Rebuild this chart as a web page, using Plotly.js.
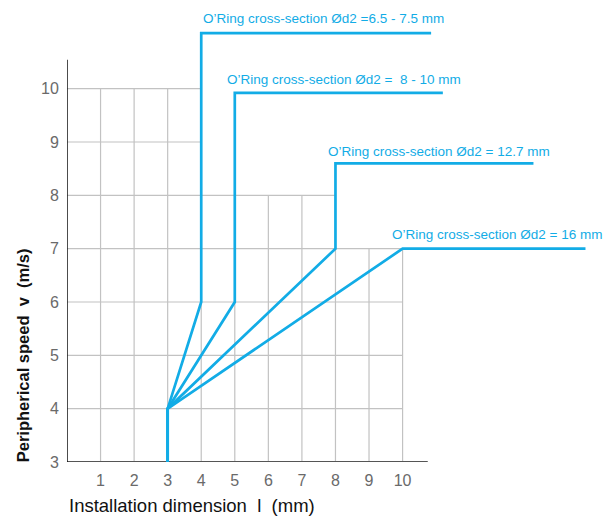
<!DOCTYPE html>
<html>
<head>
<meta charset="utf-8">
<script src="https://cdn.plot.ly/plotly-3.0.1.min.js"></script>
<style>html,body{margin:0;padding:0;background:#fff;}#chart{width:614px;height:517px;}</style>
</head>
<body>
<div id="chart"></div>
<script>
// Series data (installation dimension l in mm, peripheral speed v in m/s)
const seriesNames = ["Ød2 6.5 - 7.5 mm", "Ød2 8 - 10 mm", "Ød2 12.7 mm", "Ød2 16 mm"];
const seriesX = [
  [3, 3, 4, 4, 10.85],
  [3, 3, 5, 5, 11.2],
  [3, 3, 8, 8, 13.9],
  [3, 3, 10, 15.45]
];
const seriesY = [
  [3, 4, 6, 11.04, 11.04],
  [3, 4, 6, 9.92, 9.92],
  [3, 4, 7, 8.6, 8.6],
  [3, 4, 7, 7]
];
const labelTexts = [
  "O’Ring cross-section Ød2 =6.5 - 7.5 mm",
  "O’Ring cross-section Ød2 =\u00a0 8 - 10 mm",
  "O’Ring cross-section Ød2 = 12.7 mm",
  "O’Ring cross-section Ød2 = 16 mm"
];
const labelX = [3.99, 4.72, 7.73, 9.61];
const labelY = [11.32, 10.18, 8.83, 7.27];
const xTicks = [1, 2, 3, 4, 5, 6, 7, 8, 9, 10];
const yTicks = [3, 4, 5, 6, 7, 8, 9, 10];
const xTitle = "Installation dimension\u00a0 l\u00a0 (mm)";
const yTitle = "Peripherical speed\u00a0 v\u00a0 (m/s)";
// Partial grid extents: vertical lines (x, top y), horizontal lines (y, right x)
const vGridX = [1, 2, 3, 4, 5, 6, 7, 8, 9, 10];
const vGridTop = [10, 10, 10, 10, 8, 8, 8, 8, 7, 7];
const hGridY = [4, 5, 6, 7, 8, 9, 10];
const hGridRight = [10, 10, 10, 10, 8, 4, 4];

const blue = "#12ACE6";
const FONT = "Liberation Sans, Arial, sans-serif";
const yMin = 3, yMax = 11.4;
const plotTopPx = 461.7 - (yMax - yMin) * 53.3;
const plotH = 461.7 - plotTopPx;
const plotW = 547;

const shapes = [];
vGridX.forEach((x, i) => shapes.push({type: "line", xref: "x", yref: "y", x0: x, x1: x, y0: 3, y1: vGridTop[i], line: {color: "#c2c2c2", width: 1.2}, layer: "below"}));
hGridY.forEach((y, i) => shapes.push({type: "line", xref: "x", yref: "y", x0: 0, x1: hGridRight[i], y0: y, y1: y, line: {color: "#c2c2c2", width: 1.2}, layer: "below"}));
shapes.push({type: "line", xref: "x", yref: "y", x0: 0, x1: 10.75, y0: 3, y1: 3, line: {color: "#555", width: 2}, layer: "below"});
shapes.push({type: "line", xref: "x", yref: "y", x0: 0, x1: 0, y0: 3, y1: 10.54, line: {color: "#111", width: 1.5}, layer: "below"});

const traces = seriesNames.map((n, i) => ({
  type: "scatter", mode: "lines", name: n,
  x: seriesX[i], y: seriesY[i],
  line: {color: blue, width: 2.7}, cliponaxis: false, hoverinfo: "skip"
}));

const annotations = labelTexts.map((t, i) => ({
  text: t, x: labelX[i], y: labelY[i], xref: "x", yref: "y",
  xanchor: "left", yanchor: "middle", showarrow: false,
  font: {family: FONT, size: 13.5, color: blue}
}));
annotations.push({
  text: xTitle, xref: "paper", yref: "paper", x: 0, y: -(505 - 461.7) / plotH,
  xanchor: "left", yanchor: "middle", showarrow: false,
  font: {family: FONT, size: 18.5, color: "#111"}
});
annotations.push({
  text: "<b>" + yTitle + "</b>", xref: "paper", yref: "paper",
  x: -(67 - 23) / plotW, y: (461.7 - 355) / plotH, textangle: -90,
  xanchor: "center", yanchor: "middle", showarrow: false,
  font: {family: FONT, size: 16.5, color: "#111"}
});

const layout = {
  width: 614, height: 517,
  margin: {l: 67, r: 0, t: plotTopPx, b: 517 - 461.7},
  paper_bgcolor: "#fff", plot_bgcolor: "#fff",
  showlegend: false,
  font: {family: FONT},
  xaxis: {
    range: [0, 16.3], tickvals: xTicks, showgrid: false, zeroline: false, showline: false,
    ticks: "outside", ticklen: 4, tickcolor: "rgba(0,0,0,0)",
    tickfont: {family: FONT, size: 16, color: "#6a6a6a"}
  },
  yaxis: {
    range: [yMin, yMax], tickvals: yTicks, showgrid: false, zeroline: false, showline: false,
    ticks: "outside", ticklen: 4, tickcolor: "rgba(0,0,0,0)",
    tickfont: {family: FONT, size: 16, color: "#6a6a6a"}
  },
  shapes: shapes,
  annotations: annotations
};

Plotly.newPlot("chart", traces, layout, {displayModeBar: false, staticPlot: true});
</script>
</body>
</html>
